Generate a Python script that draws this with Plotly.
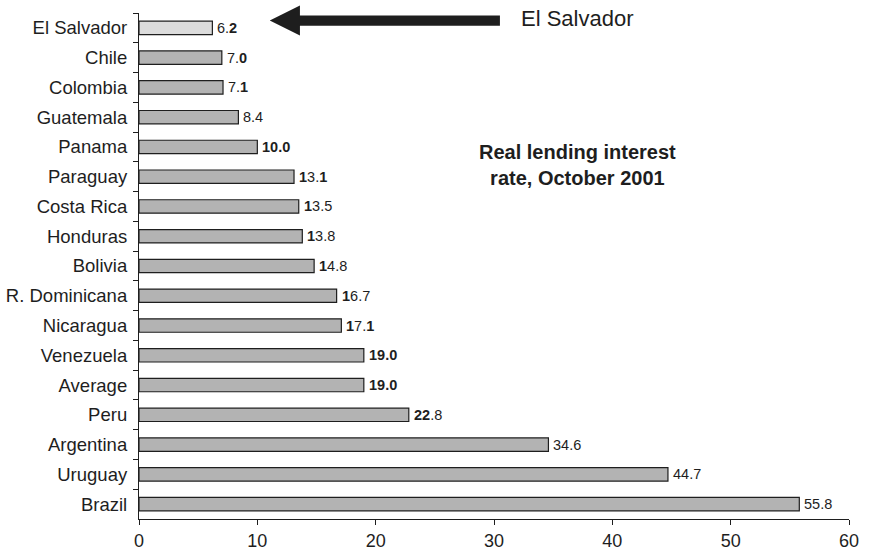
import plotly.graph_objects as go

countries = ["El Salvador", "Chile", "Colombia", "Guatemala", "Panama", "Paraguay",
             "Costa Rica", "Honduras", "Bolivia", "R. Dominicana", "Nicaragua",
             "Venezuela", "Average", "Peru", "Argentina", "Uruguay", "Brazil"]
rates = [6.2, 7.0, 7.1, 8.4, 10.0, 13.1, 13.5, 13.8, 14.8, 16.7, 17.1,
         19.0, 19.0, 22.8, 34.6, 44.7, 55.8]
value_labels = ["6.<b>2</b>", "7.<b>0</b>", "7.<b>1</b>", "8.4", "<b>10.0</b>",
                "<b>1</b>3.<b>1</b>", "<b>1</b>3.5", "<b>1</b>3.8", "<b>1</b>4.8",
                "<b>1</b>6.7", "<b>1</b>7.<b>1</b>", "<b>19.0</b>", "<b>19.0</b>",
                "<b>22</b>.8", "34.6", "44.7", "55.8"]
highlight = "El Salvador"
x_ticks = [0, 10, 20, 30, 40, 50, 60]

bar_colors = ["#dcdcdc" if c == highlight else "#b3b3b3" for c in countries]

FONT = "Liberation Sans, Arial, sans-serif"
INK = "#1e1e1e"

fig = go.Figure()
fig.add_trace(go.Bar(
    x=rates, y=countries, orientation="h", width=0.45,
    marker=dict(color=bar_colors, line=dict(color=INK, width=1.2)),
    hoverinfo="skip",
))

for c, v, t in zip(countries, rates, value_labels):
    fig.add_annotation(x=v, y=c, xref="x", yref="y", text=t, showarrow=False,
                       xanchor="left", yanchor="middle", xshift=3,
                       font=dict(family=FONT, size=14.5, color=INK))

# arrow pointing at El Salvador
fig.add_shape(type="path", xref="x", yref="paper",
              path="M 30.5,0.995 L 13.6,0.995 L 13.6,1.0148 L 11.05,0.985 "
                   "L 13.6,0.9555 L 13.6,0.975 L 30.5,0.975 Z",
              fillcolor=INK, line=dict(width=0))
fig.add_annotation(x=32.1, y=0.989, xref="x", yref="paper", text="El Salvador",
                   showarrow=False, xanchor="left", yanchor="middle",
                   font=dict(family=FONT, size=22, color=INK))
fig.add_annotation(x=0.617, y=0.70, xref="paper", yref="paper",
                   text="<b>Real lending interest<br>rate, October 2001</b>",
                   showarrow=False, xanchor="center", yanchor="middle", align="center",
                   font=dict(family=FONT, size=20, color=INK))

fig.update_layout(
    width=869, height=551,
    margin=dict(l=139, r=20, t=13, b=32, autoexpand=False),
    paper_bgcolor="white", plot_bgcolor="white",
    showlegend=False,
    xaxis=dict(range=[0, 60], tickvals=x_ticks, ticks="outside", ticklen=5,
               tickcolor=INK, showline=True, linecolor=INK, linewidth=1.2,
               showgrid=False, zeroline=False, automargin=False,
               tickfont=dict(family=FONT, size=18, color=INK)),
    yaxis=dict(type="category", categoryorder="array", categoryarray=countries,
               range=[16.5, -0.5], tickson="boundaries", ticks="outside", ticklen=5,
               tickcolor=INK, showline=True, linecolor=INK, linewidth=1.2,
               showgrid=False, zeroline=False, ticklabelstandoff=7, automargin=False,
               tickfont=dict(family=FONT, size=18.5, color=INK)),
)

fig.write_html("out.html", config={"displayModeBar": False},
               post_script="document.body.style.margin='0';")
